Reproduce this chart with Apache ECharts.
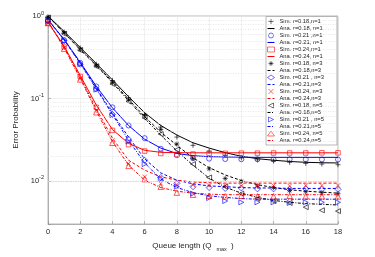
<!DOCTYPE html>
<html><head><meta charset="utf-8">
<script src="https://cdn.jsdelivr.net/npm/echarts@6/dist/echarts.min.js"></script>
<style>html,body{margin:0;padding:0;background:#fff}#c{width:375px;height:257px}</style>
</head><body><div id="c"></div>
<script>
// Queue length values (x) and tick values
const queueLength = [0,1,2,3,4,5,6,7,8,9,10,11,12,13,14,15,16,17,18];
const yMinorTicks = [0.004,0.005,0.006,0.007,0.008,0.009,0.02,0.03,0.04,0.05,0.06,0.07,0.08,0.09,0.2,0.3,0.4,0.5,0.6,0.7,0.8,0.9];

// n = 1
const simR18N1 = [0.97,0.64,0.41,0.26,0.165,0.102,0.064,0.045,0.034,0.027,0.023,0.0205,0.019,0.018,0.0174,0.0168,0.0163,0.0160,0.0157];
const anaR18N1 = [1.0,0.65,0.415,0.265,0.168,0.105,0.067,0.047,0.036,0.029,0.025,0.022,0.0199,0.0186,0.0178,0.0172,0.0168,0.0166,0.0165];
const simR21N1 = [0.88,0.51,0.27,0.14,0.078,0.047,0.033,0.0245,0.0205,0.019,0.0186,0.0184,0.0183,0.0183,0.0182,0.0183,0.0182,0.0182,0.0182];
const anaR21N1 = [0.9,0.52,0.275,0.14,0.077,0.047,0.032,0.025,0.0215,0.0202,0.0197,0.0195,0.0194,0.0193,0.0193,0.0193,0.0193,0.0193,0.0193];
const simR24N1 = [0.82,0.42,0.185,0.078,0.041,0.0275,0.023,0.0215,0.021,0.0212,0.0215,0.0216,0.0217,0.0217,0.0218,0.0218,0.0218,0.0219,0.0219];
const anaR24N1 = [0.85,0.43,0.19,0.083,0.042,0.0285,0.0235,0.0222,0.022,0.0219,0.0219,0.0219,0.0219,0.0219,0.0219,0.0219,0.0219,0.0219,0.0219];
// n = 3
const simR18N3 = [0.97,0.62,0.39,0.25,0.155,0.096,0.062,0.042,0.028,0.0186,0.014,0.0107,0.0099,0.0087,0.0083,0.0076,0.0074,0.0072,0.0070];
const anaR18N3 = [1.0,0.63,0.4,0.255,0.16,0.098,0.06,0.039,0.027,0.019,0.0145,0.0118,0.0101,0.009,0.0083,0.0078,0.0075,0.0073,0.0071];
const simR21N3 = [0.87,0.5,0.26,0.13,0.064,0.032,0.0178,0.011,0.0093,0.0085,0.0083,0.0081,0.0082,0.008,0.008,0.0079,0.008,0.0079,0.0079];
const anaR21N3 = [0.9,0.52,0.27,0.135,0.066,0.034,0.0185,0.0125,0.0102,0.0092,0.0087,0.0085,0.0083,0.0082,0.0082,0.0081,0.0081,0.0081,0.0081];
const simR24N3 = [0.82,0.41,0.175,0.072,0.031,0.0162,0.0112,0.0093,0.009,0.0089,0.0088,0.0088,0.0087,0.0088,0.0088,0.0087,0.0088,0.0088,0.0088];
const anaR24N3 = [0.85,0.42,0.18,0.075,0.033,0.0178,0.0135,0.0112,0.0102,0.0097,0.0095,0.0094,0.0094,0.0094,0.0094,0.0094,0.0094,0.0094,0.0094];
// n = 5
const simR18N5 = [0.96,0.61,0.385,0.245,0.15,0.092,0.058,0.037,0.024,0.016,0.011,0.0085,0.007,0.0061,0.0057,0.0054,0.0048,0.0044,0.0043];
const anaR18N5 = [1.0,0.62,0.39,0.25,0.155,0.094,0.057,0.036,0.023,0.0155,0.0108,0.0084,0.0071,0.0063,0.0058,0.0055,0.0053,0.0052,0.0051];
const simR21N5 = [0.87,0.5,0.26,0.128,0.063,0.03,0.016,0.0105,0.0085,0.007,0.0062,0.0057,0.0055,0.0055,0.0055,0.0054,0.0055,0.0055,0.0055];
const anaR21N5 = [0.9,0.51,0.265,0.13,0.064,0.031,0.0165,0.0105,0.0083,0.0072,0.0066,0.0063,0.0061,0.006,0.006,0.006,0.006,0.006,0.006];
const simR24N5 = [0.82,0.4,0.17,0.068,0.029,0.0152,0.0105,0.0085,0.0072,0.0068,0.0066,0.0065,0.0066,0.0065,0.0065,0.0066,0.0065,0.0065,0.0065];
const anaR24N5 = [0.85,0.41,0.175,0.07,0.03,0.0155,0.0102,0.0083,0.0075,0.0071,0.0069,0.0068,0.0068,0.0068,0.0068,0.0068,0.0068,0.0068,0.0068];

const BLACK = '#000000', BLUE = '#0000ff', RED = '#ff0000';
const FONT = 'Liberation Sans, Arial, sans-serif';
const CLEAR = 'rgba(0,0,0,0)';

const SYM = {
  plus: 'path://M5,0L5,10M0,5L10,5',
  star: 'path://M5,0L5,10M0,5L10,5M1.5,1.5L8.5,8.5M8.5,1.5L1.5,8.5',
  cross: 'path://M0,0L10,10M10,0L0,10',
  left: 'path://M10,0L0,5L10,10Z',
  right: 'path://M0,0L10,5L0,10Z'
};

const legendItems = [];
function pairs(arr){ return queueLength.map((q,i)=>[q, arr[i]]); }
function sim(name, arr, symbol, color, size){
  legendItems.push({name, icon:symbol, itemStyle:{color:CLEAR, borderColor:color, borderWidth:0.7}});
  return {name, type:'scatter', data:pairs(arr), symbol, symbolSize:size,
    itemStyle:{color:CLEAR, borderColor:color, borderWidth:0.8}, z:3};
}
function ana(name, arr, color, dash){
  legendItems.push({name, itemStyle:{color:CLEAR, borderColor:CLEAR, borderWidth:0, opacity:0},
    lineStyle:{color, width:1, type:dash}});
  return {name, type:'line', data:pairs(arr), symbol:'none', showSymbol:false,
    lineStyle:{color, width:1, type:dash}, itemStyle:{color}, z:2};
}
const DASH = [3,2], DASHDOT = [3,1.5,1,1.5];

const series = [
  {name:'grid-minor', type:'line', data:[[0,1]], symbol:'none', lineStyle:{width:0}, silent:true, z:1,
   markLine:{silent:true, symbol:'none', label:{show:false},
     lineStyle:{color:'#d8d8d8', width:0.6, type:[1,1.5]},
     data: yMinorTicks.map(v=>({yAxis:v}))}},
  sim('Sim. r=0.18,n=1', simR18N1, SYM.plus, BLACK, 5),
  ana('Ana. r=0.18, n=1', anaR18N1, BLACK, 'solid'),
  sim('Sim. r=0.21 ,n=1', simR21N1, 'circle', BLUE, 5),
  ana('Ana. r=0.21, n=1', anaR21N1, BLUE, 'solid'),
  sim('Sim. r=0.24,n=1', simR24N1, 'rect', RED, 4.5),
  ana('Ana. r=0.24, n=1', anaR24N1, RED, 'solid'),
  sim('Sim. r=0.18, n=3', simR18N3, SYM.star, BLACK, 5),
  ana('Ana. r=0.18,n=3', anaR18N3, BLACK, DASH),
  sim('Sim. r=0.21 , n=3', simR21N3, 'diamond', BLUE, 6),
  ana('Ana. r=0.21,n=3', anaR21N3, BLUE, DASH),
  sim('Sim. r=0.24, n=3', simR24N3, SYM.cross, RED, 4.5),
  ana('Ana. r=0.24,n=3', anaR24N3, RED, DASH),
  sim('Sim. r=0.18, n=5', simR18N5, SYM.left, BLACK, 5),
  ana('Ana. r=0.18,n=5', anaR18N5, BLACK, DASHDOT),
  sim('Sim. r=0.21 , n=5', simR21N5, SYM.right, BLUE, 5),
  ana('Ana. r=0.21,n=5', anaR21N5, BLUE, DASHDOT),
  sim('Sim. r=0.24, n=5', simR24N5, 'triangle', RED, 5.5),
  ana('Ana. r=0.24,n=5', anaR24N5, RED, DASHDOT)
];

const chart = echarts.init(document.getElementById('c'), null, {renderer:'canvas'});
chart.setOption({
  animation:false,
  backgroundColor:'#fff',
  textStyle:{fontFamily:FONT},
  grid:{left:48, right:37, top:16, bottom:28.5, show:true, borderColor:'#8c8c8c', borderWidth:0.6, backgroundColor:CLEAR},
  legend:{
    data: legendItems,
    orient:'vertical', left:266, top:16.5,
    itemWidth:7, itemHeight:5, itemGap:1.0,
    padding:[2,13,1.5,1],
    backgroundColor:'#fff', borderColor:'#8c8c8c', borderWidth:0.6,
    textStyle:{fontSize:5.8, lineHeight:6, color:'#1a1a1a', fontFamily:FONT},
    selectedMode:false
  },
  xAxis:{
    type:'value', min:0, max:18, interval:2,
    name:'{a|Queue length (Q}{s|max}{a| )}', nameLocation:'middle', nameGap:15,
    nameTextStyle:{rich:{a:{fontSize:8, color:'#262626', fontFamily:FONT}, s:{fontSize:5.5, color:'#262626', fontFamily:FONT, padding:[7,2,0,5]}}},
    axisLine:{show:true, lineStyle:{color:'#8c8c8c', width:0.6}},
    axisTick:{show:true, inside:true, length:3, lineStyle:{color:'#8c8c8c', width:0.6}},
    axisLabel:{fontSize:7.5, color:'#262626', margin:4, fontFamily:FONT},
    splitLine:{show:true, lineStyle:{color:'#e6e6e6', width:0.6}}
  },
  yAxis:{
    type:'log', logBase:10, min:0.003, max:1,
    name:'Error Probability', nameLocation:'middle', nameGap:20,
    nameTextStyle:{fontSize:8, color:'#262626', fontFamily:FONT},
    axisLine:{show:true, lineStyle:{color:'#8c8c8c', width:0.6}},
    axisTick:{show:true, inside:true, length:3, lineStyle:{color:'#8c8c8c', width:0.6}},
    axisLabel:{margin:4, fontFamily:FONT,
      formatter:function(v){
        const e = Math.log10(v);
        if (Math.abs(e - Math.round(e)) > 1e-6) return '';
        return '{b|10}{s|' + Math.round(e) + '}';
      },
      rich:{b:{fontSize:7.5, color:'#262626', fontFamily:FONT}, s:{fontSize:5.5, color:'#262626', fontFamily:FONT, padding:[0,0,6,0]}}
    },
    splitLine:{show:true, lineStyle:{color:'#e6e6e6', width:0.6}}
  },
  series
});
</script></body></html>
